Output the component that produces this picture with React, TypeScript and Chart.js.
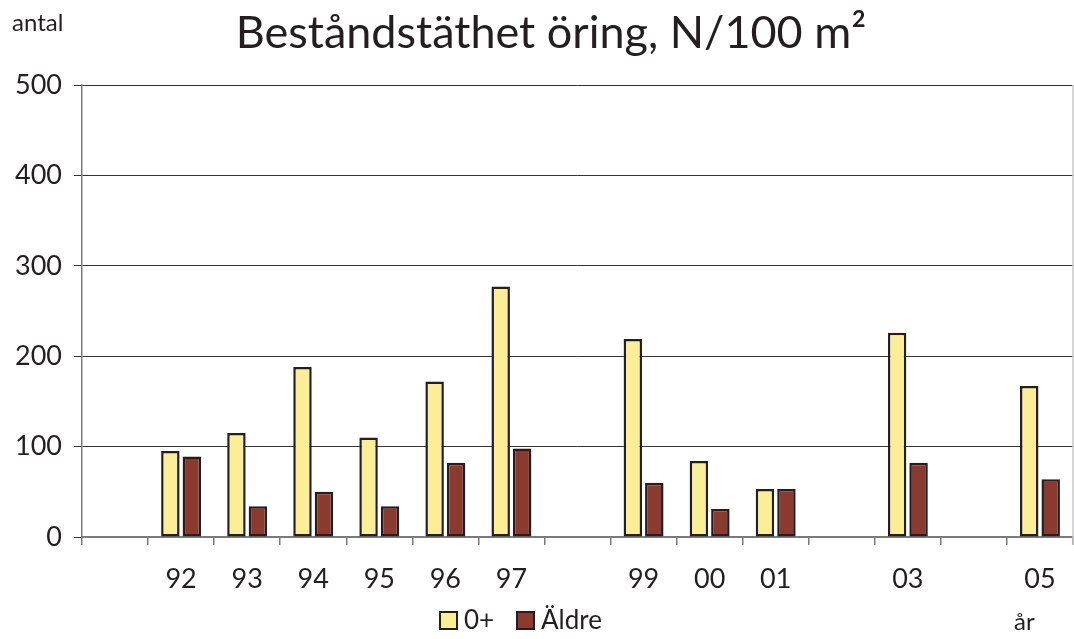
import React, { useEffect, useRef } from "react";
import { Chart, registerables } from "chart.js";

Chart.register(...registerables);

const categories = ["91", "92", "93", "94", "95", "96", "97", "98", "99", "00", "01", "02", "03", "04", "05"];
const tickLabels = ["", "92", "93", "94", "95", "96", "97", "", "99", "00", "01", "", "03", "", "05"];
const youngValues = [null, 95, 115, 188, 110, 172, 277, null, 219, 84, 53, null, 226, null, 167];
const olderValues = [null, 89, 34, 50, 34, 82, 98, null, 60, 31, 53, null, 82, null, 64];
const seriesNames = ["0+", "Äldre"];
const yTicks = [0, 100, 200, 300, 400, 500];

const titleText = "Beståndstäthet öring, N/100 m²";
const yUnitText = "antal";
const xUnitText = "år";

const FONT = "Lato, 'DejaVu Sans', sans-serif";
const INK = "#231f20";
const YELLOW = "#fbee96";
const RED = "#8b3a2f";

const overlayPlugin = {
  id: "overlay",
  afterDraw(chart: any) {
    const ctx = chart.ctx as CanvasRenderingContext2D;
    const area = chart.chartArea;
    ctx.save();
    // right edge light line
    ctx.strokeStyle = "#c8c8c8";
    ctx.lineWidth = 1.5;
    ctx.beginPath();
    ctx.moveTo(area.right, area.top);
    ctx.lineTo(area.right, area.bottom + 8);
    ctx.stroke();

    ctx.fillStyle = INK;
    // title
    ctx.font = `45px ${FONT}`;
    ctx.textAlign = "center";
    ctx.textBaseline = "alphabetic";
    ctx.fillText(titleText, 551, 48);

    // unit labels
    ctx.font = `24px ${FONT}`;
    ctx.textAlign = "left";
    ctx.fillText(yUnitText, 12, 31);
    ctx.fillText(xUnitText, 1014, 630);

    // legend
    const boxes = [440, 517];
    ctx.font = `26px ${FONT}`;
    chart.data.datasets.forEach((ds: any, i: number) => {
      const bx = boxes[i];
      ctx.fillStyle = ds.backgroundColor;
      ctx.fillRect(bx, 612, 17, 17);
      ctx.strokeStyle = INK;
      ctx.lineWidth = 2;
      ctx.strokeRect(bx, 612, 17, 17);
      ctx.fillStyle = INK;
      ctx.fillText(ds.label, bx + 24, 629);
    });
    ctx.restore();
  },
};

export default function App() {
  const ref = useRef<HTMLCanvasElement | null>(null);

  useEffect(() => {
    if (!ref.current) return;
    const chart = new Chart(ref.current, {
      type: "bar",
      data: {
        labels: categories,
        datasets: [
          {
            label: seriesNames[0],
            data: youngValues,
            backgroundColor: YELLOW,
            borderColor: INK,
            borderWidth: 2.5,
            borderSkipped: false,
          },
          {
            label: seriesNames[1],
            data: olderValues,
            backgroundColor: RED,
            borderColor: INK,
            borderWidth: 2.5,
            borderSkipped: false,
          },
        ],
      },
      options: {
        responsive: false,
        animation: false,
        layout: { padding: { top: 85, right: 1, left: 0, bottom: 0 } },
        datasets: {
          bar: { categoryPercentage: 0.65, barPercentage: 0.86 },
        },
        plugins: {
          legend: { display: false },
          title: { display: false },
          tooltip: { enabled: false },
        },
        scales: {
          x: {
            afterFit: (s: any) => {
              s.height = 102;
            },
            grid: {
              offset: true,
              drawOnChartArea: false,
              drawTicks: true,
              tickLength: 8,
              color: "#7a7a7a",
              lineWidth: 1.5,
            },
            border: { color: "#7a7a7a", width: 2 },
            ticks: {
              autoSkip: false,
              maxRotation: 0,
              padding: 18,
              color: INK,
              font: { family: FONT, size: 27 },
              callback: (_v: any, i: number) => tickLabels[i],
            },
          },
          y: {
            min: yTicks[0],
            max: yTicks[yTicks.length - 1],
            afterFit: (s: any) => {
              s.width = 82;
            },
            afterBuildTicks: (s: any) => {
              s.ticks = yTicks.map((v) => ({ value: v }));
            },
            grid: {
              color: "#333333",
              lineWidth: 1,
              tickLength: 8,
            },
            border: { color: "#7a7a7a", width: 1.5 },
            ticks: {
              padding: 12,
              color: INK,
              font: { family: FONT, size: 27 },
            },
          },
        },
      },
      plugins: [overlayPlugin],
    });
    return () => chart.destroy();
  }, []);

  return (
    <div style={{ position: "fixed", left: 0, top: 0, width: 1074, height: 639, background: "#fff" }}>
      <canvas ref={ref} width={1074} height={639} style={{ display: "block" }} />
    </div>
  );
}
